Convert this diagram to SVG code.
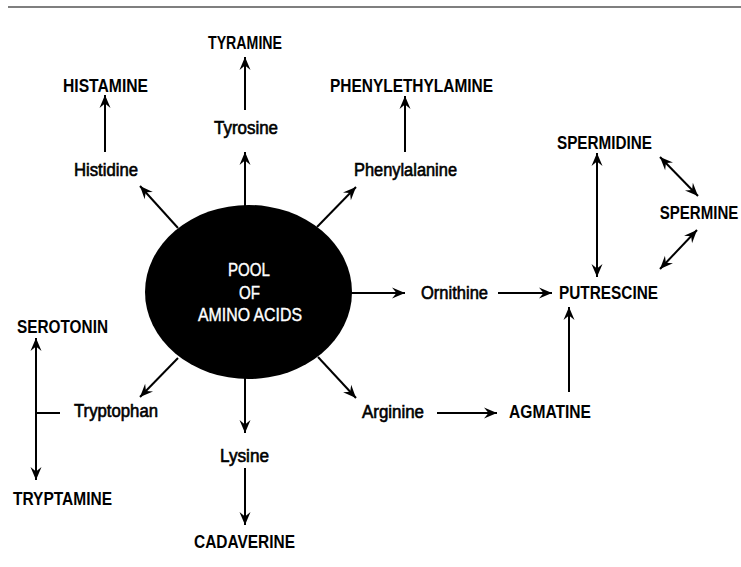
<svg xmlns="http://www.w3.org/2000/svg" width="741" height="567" viewBox="0 0 741 567">
<style>
text{font-family:"Liberation Sans",Arial,sans-serif;font-size:17.5px;fill:#000;text-anchor:middle}
.c{font-weight:bold}
.l{font-weight:normal;font-size:17.5px;stroke:#000;stroke-width:0.6}
.w{fill:#fff;font-weight:normal;font-size:18px;stroke:#fff;stroke-width:0.4}
.e line,.e path{stroke:#000;stroke-width:2;fill:none}
.a{marker-end:url(#ah)}
.d{marker-end:url(#ah);marker-start:url(#ah)}
</style>
<defs>
<marker id="ah" markerUnits="userSpaceOnUse" markerWidth="16" markerHeight="14" viewBox="-14 -7 16 14" refX="0" refY="0" orient="auto-start-reverse">
<path d="M0,0 L-13,-5.5 L-8.5,0 L-13,5.5 Z" fill="#000" stroke="none"/>
</marker>
</defs>
<line x1="8" y1="7" x2="741" y2="7" stroke="#555" stroke-width="1.5"/>
<g id="connectors" class="e">
<line class="a" x1="245" y1="110" x2="245" y2="57"/>
<line class="a" x1="245" y1="206" x2="245" y2="152"/>
<line class="a" x1="105" y1="152" x2="105" y2="95"/>
<line class="a" x1="178" y1="228" x2="140" y2="186"/>
<line class="a" x1="405" y1="152" x2="405" y2="96"/>
<line class="a" x1="317" y1="227" x2="356" y2="187"/>
<line class="d" x1="597" y1="153" x2="597" y2="277"/>
<line class="d" x1="660" y1="157" x2="698" y2="196"/>
<line class="d" x1="697" y1="230" x2="660" y2="269"/>
<line class="a" x1="351" y1="293" x2="405" y2="293"/>
<line class="a" x1="498" y1="293" x2="552" y2="293"/>
<line class="a" x1="569" y1="392" x2="569" y2="307"/>
<line class="a" x1="437" y1="413" x2="497" y2="413"/>
<line class="a" x1="318" y1="357" x2="356" y2="398"/>
<line class="a" x1="245" y1="377" x2="245" y2="433"/>
<line class="a" x1="245" y1="468" x2="245" y2="525"/>
<line class="a" x1="178" y1="358" x2="140" y2="397"/>
<line class="d" x1="36" y1="338" x2="36" y2="480"/>
<line x1="35" y1="413" x2="60" y2="413"/>
</g>
<g id="pool">
<ellipse cx="248.5" cy="292" rx="103.5" ry="87" fill="#000"/>
<text class="w" x="249" y="276" textLength="42" lengthAdjust="spacingAndGlyphs">POOL</text>
<text class="w" x="249.5" y="298.5" textLength="21" lengthAdjust="spacingAndGlyphs">OF</text>
<text class="w" x="250" y="321" textLength="104" lengthAdjust="spacingAndGlyphs">AMINO ACIDS</text>
</g>
<g id="tyramine"><text class="c" x="245" y="49" textLength="74" lengthAdjust="spacingAndGlyphs">TYRAMINE</text></g>
<g id="histamine"><text class="c" x="105.5" y="92" textLength="85" lengthAdjust="spacingAndGlyphs">HISTAMINE</text></g>
<g id="phenylethylamine"><text class="c" x="411.5" y="92" textLength="163" lengthAdjust="spacingAndGlyphs">PHENYLETHYLAMINE</text></g>
<g id="tyrosine"><text class="l" x="246" y="134" textLength="64" lengthAdjust="spacingAndGlyphs">Tyrosine</text></g>
<g id="histidine"><text class="l" x="106" y="176" textLength="64" lengthAdjust="spacingAndGlyphs">Histidine</text></g>
<g id="phenylalanine"><text class="l" x="405.5" y="176" textLength="103" lengthAdjust="spacingAndGlyphs">Phenylalanine</text></g>
<g id="spermidine"><text class="c" x="604.5" y="149" textLength="95" lengthAdjust="spacingAndGlyphs">SPERMIDINE</text></g>
<g id="spermine"><text class="c" transform="translate(699,219) scale(0.86,1)" x="0" y="0">SPERMINE</text></g>
<g id="putrescine"><text class="c" x="608.5" y="299" textLength="99" lengthAdjust="spacingAndGlyphs">PUTRESCINE</text></g>
<g id="ornithine"><text class="l" x="454.5" y="299" textLength="67" lengthAdjust="spacingAndGlyphs">Ornithine</text></g>
<g id="arginine"><text class="l" x="393" y="418" textLength="62" lengthAdjust="spacingAndGlyphs">Arginine</text></g>
<g id="agmatine"><text class="c" x="550" y="418" textLength="82" lengthAdjust="spacingAndGlyphs">AGMATINE</text></g>
<g id="serotonin"><text class="c" x="62.5" y="333" textLength="91" lengthAdjust="spacingAndGlyphs">SEROTONIN</text></g>
<g id="tryptophan"><text class="l" x="116" y="417" textLength="84" lengthAdjust="spacingAndGlyphs">Tryptophan</text></g>
<g id="tryptamine"><text class="c" x="62.5" y="505" textLength="99" lengthAdjust="spacingAndGlyphs">TRYPTAMINE</text></g>
<g id="lysine"><text class="l" x="244.5" y="462" textLength="49" lengthAdjust="spacingAndGlyphs">Lysine</text></g>
<g id="cadaverine"><text class="c" x="244.5" y="548" textLength="101" lengthAdjust="spacingAndGlyphs">CADAVERINE</text></g>
</svg>
